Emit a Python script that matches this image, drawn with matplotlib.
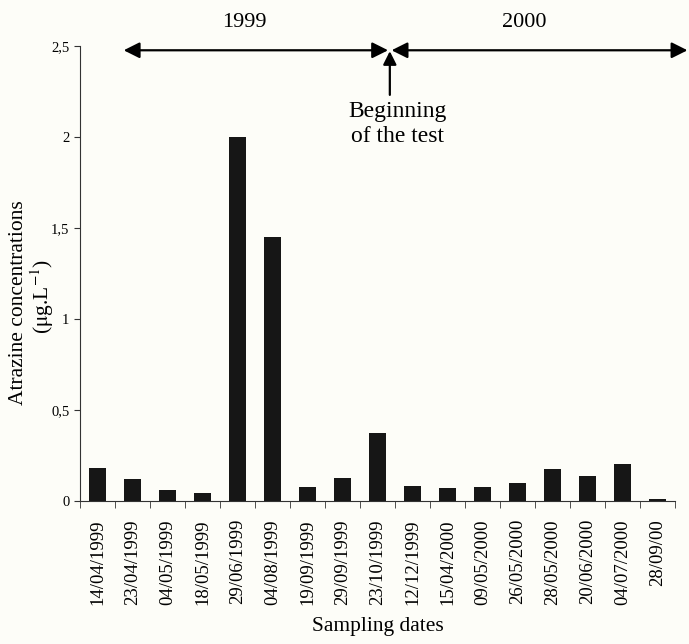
import numpy as np
import matplotlib.pyplot as plt

plt.rcParams['font.family'] = ['Liberation Serif', 'DejaVu Serif']
plt.rcParams['mathtext.fontset'] = 'stix'

# sampling dates and atrazine concentrations (ug/L)
dates = ['14/04/1999', '23/04/1999', '04/05/1999', '18/05/1999', '29/06/1999',
         '04/08/1999', '19/09/1999', '29/09/1999', '23/10/1999', '12/12/1999',
         '15/04/2000', '09/05/2000', '26/05/2000', '28/05/2000', '20/06/2000',
         '04/07/2000', '28/09/00']
conc = [0.18, 0.12, 0.06, 0.045, 2.0, 1.45, 0.075, 0.125, 0.375, 0.08,
        0.07, 0.078, 0.098, 0.178, 0.137, 0.206, 0.01]
yticks = [0, 0.5, 1, 1.5, 2, 2.5]
ytick_labels = ['0', '0,5', '1', '1,5', '2', '2,5']

bg = '#fdfdf8'
fig = plt.figure(figsize=(6.89, 6.44), dpi=100, facecolor=bg)
ax = fig.add_axes([0.116, 0.222, 0.864, 0.707], facecolor=bg)

x = np.arange(len(dates))
ax.bar(x, conc, width=0.47, color='#161616')

ax.set_xlim(-0.5, len(dates) - 0.5)
ax.set_ylim(0, 2.5)
for s in ['top', 'right']:
    ax.spines[s].set_visible(False)
for s in ['left', 'bottom']:
    ax.spines[s].set_linewidth(0.8)
    ax.spines[s].set_color('#333333')

ax.set_xticks(x)
ax.set_xticklabels(dates, rotation=90, fontsize=13.5)
ax.set_xticks(np.arange(-0.5, len(dates)), minor=True)
ax.tick_params(axis='x', which='major', length=0, pad=13)
ax.tick_params(axis='x', which='minor', length=5, direction='out', color='#333333')
ax.set_yticks(yticks)
ax.set_yticklabels(ytick_labels, fontsize=10.5)
ax.tick_params(axis='y', length=4, direction='out', color='#333333')

ax.set_xlabel('Sampling dates', fontsize=15.5, labelpad=9)
# y label as two rotated lines
fig.text(0.027, 0.53, 'Atrazine concentrations', fontsize=15.5, rotation=90,
         ha='center', va='center')
fig.text(0.062, 0.54, r'($\mathrm{\mu}$g.L$^{-1}$)', fontsize=15.5, rotation=90,
         ha='center', va='center')

# period arrows
split = 8.35
arr = dict(arrowstyle='<|-|>', color='black', lw=1.6, mutation_scale=24,
           shrinkA=0, shrinkB=0)
ax.annotate('', xy=(0.75, 2.475), xytext=(split - 0.05, 2.475),
            arrowprops=arr, annotation_clip=False)
ax.annotate('', xy=(split + 0.05, 2.475), xytext=(16.85, 2.475),
            arrowprops=arr, annotation_clip=False)
ax.annotate('', xy=(split, 2.47), xytext=(split, 2.23),
            arrowprops=dict(arrowstyle='-|>', color='black', lw=1.6,
                            mutation_scale=20, shrinkA=0, shrinkB=0),
            annotation_clip=False)
ax.text(4.2, 2.63, '1999', fontsize=16, ha='center', va='center')
ax.text(12.2, 2.63, '2000', fontsize=16, ha='center', va='center')
ax.text(split + 0.22, 2.07, 'Beginning\nof the test', fontsize=17,
        ha='center', va='center', linespacing=1.25)

fig.savefig('out.png', dpi=100, facecolor=bg)
